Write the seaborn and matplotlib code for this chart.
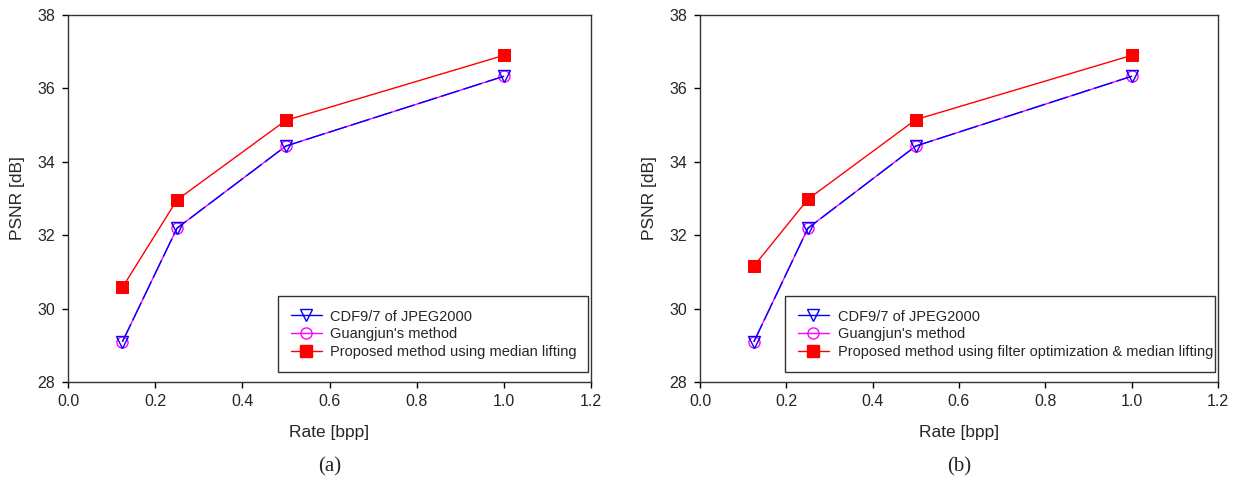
import numpy as np
import pandas as pd
import seaborn as sns
import matplotlib
matplotlib.use("Agg")
import matplotlib.pyplot as plt

# datos
rate = [0.125, 0.25, 0.5, 1.0]
cdf97 = [29.10, 32.19, 34.43, 36.33]
guangjun = [29.10, 32.19, 34.43, 36.33]
proposed_a = [30.58, 32.96, 35.13, 36.90]
proposed_b = [31.16, 32.98, 35.15, 36.90]

labels_a = ["CDF9/7 of JPEG2000", "Guangjun's method", "Proposed method using median lifting"]
labels_b = ["CDF9/7 of JPEG2000", "Guangjun's method",
            "Proposed method using filter optimization & median lifting"]

sns.set_theme(style="ticks")
plt.rcParams["font.family"] = ["Liberation Sans", "DejaVu Sans"]

fig = plt.figure(figsize=(12.41, 4.83), dpi=100)
ax_a = fig.add_axes([68 / 1241, 1 - 382 / 483, (591 - 68) / 1241, (382 - 15) / 483])
ax_b = fig.add_axes([700 / 1241, 1 - 382 / 483, (1218 - 700) / 1241, (382 - 15) / 483])


def panel(ax, proposed, labels, legend_box, letter):
    df = pd.DataFrame({"rate": rate, "cdf": cdf97, "gj": guangjun, "prop": proposed})
    sns.lineplot(data=df, x="rate", y="gj", ax=ax, color="magenta", lw=1,
                 marker="o", markersize=8, markerfacecolor="none",
                 markeredgecolor="magenta", markeredgewidth=1, label=labels[1])
    sns.lineplot(data=df, x="rate", y="cdf", ax=ax, color="blue", lw=1,
                 marker="v", markersize=8, markerfacecolor="none",
                 markeredgecolor="blue", markeredgewidth=1, label=labels[0])
    sns.lineplot(data=df, x="rate", y="prop", ax=ax, color="red", lw=1,
                 marker="s", markersize=8, markerfacecolor="red",
                 markeredgecolor="red", label=labels[2])
    # linea azul discontinua sobre la magenta
    for ln in ax.get_lines():
        if ln.get_label() == labels[0]:
            ln.set_linestyle((0, (14, 3)))
    ax.set_xlim(0, 1.2)
    ax.set_ylim(28, 38)
    ax.set_xticks(np.arange(0, 1.21, 0.2))
    ax.set_xticklabels([f"{v:.1f}" for v in np.arange(0, 1.21, 0.2)])
    ax.set_yticks(range(28, 39, 2))
    ax.tick_params(direction="out", length=4, width=1, labelsize=11.5, color="black", pad=5)
    for s in ax.spines.values():
        s.set_color("#333333")
        s.set_linewidth(1)
    ax.set_xlabel("Rate [bpp]", fontsize=12.5, labelpad=11)
    ax.set_ylabel("PSNR [dB]", fontsize=12.5, labelpad=9)
    h, l = ax.get_legend_handles_labels()
    order = [l.index(labels[0]), l.index(labels[1]), l.index(labels[2])]
    from matplotlib.lines import Line2D
    handles = []
    for i in order:
        src = h[i]
        handles.append(Line2D([], [], color=src.get_color(), lw=1, marker=src.get_marker(),
                              markersize=8, markerfacecolor=src.get_markerfacecolor(),
                              markeredgecolor=src.get_markeredgecolor()))
    leg = ax.legend(handles, [l[i] for i in order],
                    loc="lower left", bbox_to_anchor=legend_box,
                    bbox_transform=fig.transFigure, mode="expand", borderaxespad=0,
                    fontsize=10.5, frameon=True, fancybox=False, edgecolor="#333333",
                    framealpha=1, handlelength=2.1, labelspacing=0.25,
                    borderpad=0.9, handletextpad=0.6)
    leg.get_frame().set_linewidth(1)
    ax.text(0.5, -(467 - 382) / 367, letter, transform=ax.transAxes, ha="center",
            va="center", fontsize=15, family=["Liberation Serif", "DejaVu Serif"])


panel(ax_a, proposed_a, labels_a,
      (278 / 1241, 1 - 372 / 483, (588 - 278) / 1241, (372 - 298) / 483), "(a)")
panel(ax_b, proposed_b, labels_b,
      (785 / 1241, 1 - 372 / 483, (1215 - 785) / 1241, (372 - 298) / 483), "(b)")

plt.savefig("out.png", dpi=100)
plt.close()
